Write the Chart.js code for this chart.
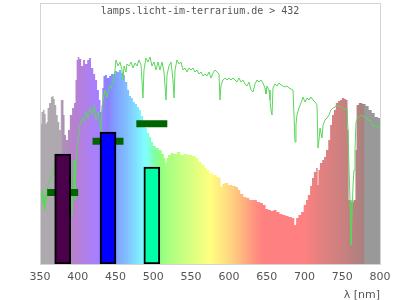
<!DOCTYPE html>
<html>
<head>
<meta charset="utf-8">
<script src="https://cdn.jsdelivr.net/npm/chart.js@4"></script>
<style>
html,body{margin:0;padding:0;background:#fff;}
canvas{display:block;}
</style>
</head>
<body>
<canvas id="c" width="400" height="300"></canvas>
<script>
// ---- data ----
const chartTitle = 'lamps.licht-im-terrarium.de > 432';
const axisTitle = 'λ [nm]';
const xTicks = [350, 400, 450, 500, 550, 600, 650, 700, 750, 800];

// lamp spectrum (coloured area)
const specNm = [350,351,353,355,357,358,359,361,363,366,367,369,370,373,374,377,378,380,382,383,386,388,391,394,396,398,399,401,403,406,408,411,414,416,419,422,424,427,429,431,432,433,435,437,440,443,445,448,451,453,456,459,461,464,467,469,472,474,477,480,482,485,488,490,493,496,498,501,505,509,513,515,517,518,521,525,529,533,538,543,549,554,558,562,566,570,572,576,582,586,588,590,592,596,602,607,611,613,617,621,625,629,635,639,643,647,650,654,657,661,665,669,673,677,681,685,688,690,694,697,701,703,706,709,711,714,717,718,719,722,725,727,730,733,735,738,740,743,746,748,751,754,756,758,759,763,767,768,770,774,779,783,787,791,795,800];
const specVal = [138,140,152,154,150,140,142,156,161,167,168,165,159,149,142,134,164,164,149,129,124,134,149,156,161,184,204,207,205,198,204,200,204,206,196,190,184,174,164,152,159,176,188,189,186,188,190,190,193,192,194,191,189,182,174,168,166,162,160,157,154,148,140,136,131,127,122,118,116,114,110,106,101,106,109,111,110,112,109,110,109,108,106,102,99,96,94,91,89,87,86,77,80,81,79,78,77,74,70,67,66,64,64,62,61,59,55,54,53,54,52,50,49,48,47,46,39,46,49,52,59,64,69,78,86,92,96,79,94,101,104,107,114,124,139,149,154,161,163,164,166,165,164,134,64,62,64,114,159,161,160,158,154,151,147,146];

// reference (daylight) curve
const refNm = [351.3,352.6,354.0,355.3,356.6,357.9,359.3,360.6,363.2,365.9,367.2,369.9,376.5,383.1,389.7,391.0,392.4,393.7,395.0,396.3,397.6,399.0,400.3,402.9,405.6,408.2,410.9,413.5,416.2,418.8,421.5,424.1,426.8,429.4,430.7,432.1,433.4,436.0,438.7,441.3,444.0,446.6,449.3,450.6,453.2,455.9,458.5,459.9,461.2,463.8,465.1,467.8,470.4,473.1,475.7,478.4,481.0,483.7,486.3,487.6,490.3,492.9,495.6,498.2,500.9,503.5,506.2,508.8,511.5,514.1,516.8,518.1,520.7,523.4,526.0,527.4,528.7,531.3,534.0,536.6,539.3,541.9,544.6,547.2,549.9,552.5,555.1,557.8,560.4,563.1,565.7,568.4,571.0,573.7,576.3,579.0,581.6,584.3,586.9,588.2,589.6,592.2,594.9,597.5,600.1,602.8,605.4,608.1,610.7,613.4,616.0,618.7,621.3,624.0,626.6,629.3,631.9,634.6,637.2,639.9,642.5,645.1,647.8,649.1,650.4,653.1,654.4,655.7,657.1,658.4,661.0,663.7,666.3,669.0,671.6,674.3,676.9,679.6,682.2,684.9,687.5,688.8,690.1,692.8,695.4,698.1,700.7,703.4,706.0,708.7,711.3,714.0,716.6,717.9,719.3,720.6,723.2,724.6,727.2,729.9,732.5,735.1,737.8,740.4,743.1,745.7,748.4,751.0,753.7,756.3,757.6,759.0,760.3,761.6,762.9,764.3,765.6,766.9,768.2,770.9,773.5,776.2,778.8,781.5,784.1,786.8,789.4,792.1,794.7,797.4,800];
const refVal = [64,74,59,69,54,64,72,79,84,89,94,99,94,89,104,84,49,69,104,64,99,114,124,139,146,142,152,146,156,150,159,144,152,139,132,154,164,174,166,178,176,182,194,204,198,202,194,184,198,192,200,198,202,196,201,198,204,199,166,194,206,202,207,198,202,194,202,194,202,192,164,189,198,202,184,166,194,204,200,202,194,196,192,196,194,196,192,194,190,192,188,190,188,192,186,191,194,192,190,164,179,184,186,184,186,184,186,184,182,186,182,184,180,178,182,174,172,180,184,182,184,181,176,170,178,174,164,154,149,176,180,178,181,179,178,177,178,176,175,174,122,139,149,156,161,167,162,166,164,167,164,162,159,116,124,136,126,139,144,146,149,154,156,157,159,157,158,156,154,156,134,96,64,19,44,79,94,114,142,147,148,149,147,146,144,144,140,137,139,136,137];

// LED channels
const ledNm = [380, 440, 498];
const ledVal = [110, 132, 97];
const ledColor = ['#4b004b', '#0000ff', '#00ffa6'];
// width markers per channel
const markNm = [380, 440, 498];
const markHalfWidth = [20.5, 20.5, 20.5];
const markVal = [71.5, 122.7, 140.3];

// wavelength colour stops for the spectrum fill
const stopNm = [350,378,380,395,410,425,440,450,465,480,490,503,510,520,550,575,590,605,620,635,645,700,720,750,778,780,800];
const stopHex = ['#aea9ae','#aea9ae','#ad8fb6','#b880cc','#b080e8','#a880ff','#8a80ff','#80a0ff','#80c0ff','#80e8ff','#80ffff','#80ffa0','#92ff80','#a8ff80','#d8ff80','#ffff80','#ffe880','#ffd080','#ffb080','#ff9080','#ff8080','#ff8080','#e48080','#cc8080','#aa8080','#999999','#999999'];

// ---- build ----
const specPts = specNm.map((x, i) => ({x, y: specVal[i]}));
const refPts = refNm.map((x, i) => ({x, y: refVal[i]}));
const ledPts = ledNm.map((x, i) => ({x, y: ledVal[i]}));
const markPts = [];
markNm.forEach((x, i) => {
  markPts.push({x: x - markHalfWidth[i], y: markVal[i]});
  markPts.push({x: x + markHalfWidth[i], y: markVal[i]});
  markPts.push({x: x + markHalfWidth[i] + 0.01, y: null});
});

function spectrumFill(ctx) {
  const chart = ctx.chart;
  if (!chart.chartArea) return '#aaa';
  const xs = chart.scales.x;
  const x0 = xs.getPixelForValue(350), x1 = xs.getPixelForValue(800);
  const g = chart.ctx.createLinearGradient(x0, 0, x1, 0);
  stopNm.forEach((nm, i) => g.addColorStop((nm - 350) / 450, stopHex[i]));
  return g;
}

const boxPlugin = {
  id: 'box',
  afterDraw(chart) {
    const {ctx, chartArea: a} = chart;
    ctx.save();
    ctx.strokeStyle = '#d4d4d4';
    ctx.lineWidth = 1;
    ctx.strokeRect(Math.round(a.left) + 0.5, Math.round(a.top) + 0.5, Math.round(a.right - a.left), Math.round(a.bottom - a.top));
    ctx.fillStyle = '#555';
    ctx.font = '10px "DejaVu Sans Mono"';
    ctx.textAlign = 'center';
    ctx.textBaseline = 'middle';
    ctx.fillText(chartTitle, chart.width / 2, 11);
    ctx.restore();
  }
};

new Chart(document.getElementById('c'), {
  type: 'bar',
  data: {
    datasets: [
      {
        type: 'bar', data: ledPts, backgroundColor: ledColor,
        borderColor: '#000', borderWidth: 2, borderSkipped: false,
        barThickness: 16, order: 0
      },
      {
        type: 'line', data: markPts, borderColor: '#006400', borderWidth: 7,
        borderCapStyle: 'butt', pointRadius: 0, spanGaps: false, fill: false, order: 1
      },
      {
        type: 'line', data: refPts, borderColor: '#5cd65c', borderWidth: 1,
        pointRadius: 0, fill: false, tension: 0, order: 2
      },
      {
        type: 'line', data: specPts, borderWidth: 0, borderColor: 'rgba(0,0,0,0)',
        backgroundColor: spectrumFill, pointRadius: 0, fill: 'origin', stepped: 'middle', order: 3
      }
    ]
  },
  options: {
    responsive: false,
    animation: false,
    devicePixelRatio: 1,
    layout: {padding: {left: 40, right: 20, top: 3, bottom: 0}},
    plugins: {legend: {display: false}, tooltip: {enabled: false}, title: {display: false}},
    scales: {
      x: {
        type: 'linear', min: 350, max: 800, offset: false,
        afterBuildTicks: (s) => { s.ticks = xTicks.map(v => ({value: v})); },
        afterFit: (s) => { s.height = 36; },
        grid: {display: false, drawTicks: false, offset: false},
        border: {display: false},
        ticks: {padding: 7, color: '#555', font: {family: 'DejaVu Sans', size: 11}, maxRotation: 0, autoSkip: false},
        title: {display: true, text: axisTitle, align: 'end', color: '#555',
                font: {family: 'DejaVu Sans', size: 11}, padding: {top: 0, bottom: -2}}
      },
      y: {min: 0, max: 261, display: false}
    }
  },
  plugins: [boxPlugin]
});
</script>
</body>
</html>
